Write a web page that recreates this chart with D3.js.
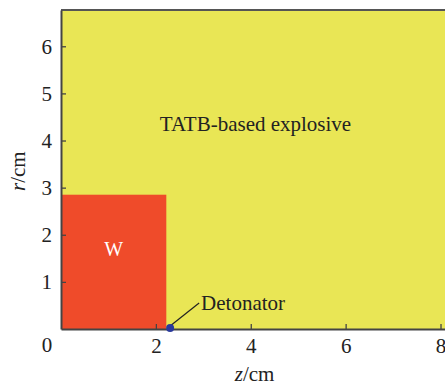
<!DOCTYPE html>
<html>
<head>
<meta charset="utf-8">
<script src="https://cdn.jsdelivr.net/npm/d3@7"></script>
<style>
  body { margin: 0; background: #fff; }
</style>
</head>
<body>
<svg id="chart" width="445" height="390" font-family="Liberation Serif" font-size="21"></svg>
<script>
(function() {
    'use strict';

    // axis ticks
    var zTicks = [2, 4, 6, 8];
    var rTicks = [1, 2, 3, 4, 5, 6];
    // regions (cm)
    var domainZ = [0, 8.2];
    var domainR = [0, 6.77];
    var tungsten = { z0: 0, z1: 2.22, r0: 0, r1: 2.85, label: 'W' };
    var explosiveLabel = { z: 4.1, r: 4.2, text: 'TATB-based explosive' };
    var detonator = { z: 2.3, r: 0, label: 'Detonator' };

    var FONT = 'Liberation Serif';
    var FS = 21;
    var margin = { top: 10, left: 61, bottom: 61 };
    var width = 450 - margin.left;
    var height = 390 - margin.top - margin.bottom;

    var svg = d3.select('#chart');
    var g = svg.append('g').attr('transform', 'translate(' + margin.left + ',' + margin.top + ')');

    var x = d3.scaleLinear().domain(domainZ).range([0, width]);
    var y = d3.scaleLinear().domain(domainR).range([height, 0]);

    function label(sel) {
        return sel.attr('font-family', FONT).attr('font-size', FS).attr('fill', '#222');
    }

    // explosive background
    g.append('rect')
        .attr('x', x(domainZ[0]))
        .attr('y', y(domainR[1]))
        .attr('width', x(domainZ[1]) - x(domainZ[0]))
        .attr('height', y(domainR[0]) - y(domainR[1]))
        .attr('fill', '#e9e655');

    // tungsten block
    g.append('rect')
        .attr('x', x(tungsten.z0))
        .attr('y', y(tungsten.r1))
        .attr('width', x(tungsten.z1) - x(tungsten.z0))
        .attr('height', y(tungsten.r0) - y(tungsten.r1))
        .attr('fill', '#ef4b2a');

    // frame top
    g.append('line')
        .attr('x1', 0).attr('x2', width)
        .attr('y1', 0).attr('y2', 0)
        .attr('stroke', '#555').attr('stroke-width', 2);

    // axes
    var xAxis = g.append('g')
        .attr('transform', 'translate(0,' + height + ')')
        .call(d3.axisBottom(x).tickValues(zTicks).tickFormat(d3.format('d'))
            .tickSizeInner(-5).tickSizeOuter(0).tickPadding(9));
    var yAxis = g.append('g')
        .call(d3.axisLeft(y).tickValues(rTicks).tickFormat(d3.format('d'))
            .tickSizeInner(-5).tickSizeOuter(0).tickPadding(9));

    [xAxis, yAxis].forEach(function(a) {
        a.attr('font-family', FONT).attr('font-size', FS);
        a.select('.domain').attr('stroke', '#444').attr('stroke-width', 2);
        a.selectAll('.tick line').attr('stroke', '#444').attr('stroke-width', 1.3);
        a.selectAll('.tick text').call(label);
    });

    // detonator marker and leader line
    var dx = x(detonator.z), dy = y(detonator.r);
    g.append('line')
        .attr('x1', dx).attr('y1', dy - 3)
        .attr('x2', dx + 29).attr('y2', dy - 26)
        .attr('stroke', '#222').attr('stroke-width', 1.2);
    g.append('circle')
        .attr('cx', dx).attr('cy', dy - 1)
        .attr('r', 4)
        .attr('fill', '#2a3a9c');

    // text labels
    var labels = g.append('g').attr('font-family', FONT).attr('font-size', FS).attr('fill', '#222');

    labels.append('text')
        .attr('transform', 'translate(' + x((tungsten.z0 + tungsten.z1) / 2) + ',' + (y(tungsten.r1 / 2) - 6) + ')')
        .attr('text-anchor', 'middle')
        .call(label)
        .attr('font-size', 20)
        .attr('fill', '#fff')
        .text(tungsten.label);

    labels.append('text')
        .attr('transform', 'translate(' + x(explosiveLabel.z) + ',' + y(explosiveLabel.r) + ')')
        .attr('text-anchor', 'middle')
        .call(label)
        .text(explosiveLabel.text);

    labels.append('text')
        .attr('transform', 'translate(-14,' + (height + 23) + ')')
        .attr('text-anchor', 'middle')
        .call(label)
        .text('0');

    labels.append('text')
        .attr('transform', 'translate(' + (dx + 31) + ',' + (dy - 19) + ')')
        .call(label)
        .text(detonator.label);

    // axis titles
    var zt = labels.append('text')
        .attr('transform', 'translate(' + x(4.08) + ',' + (height + 52) + ')')
        .attr('text-anchor', 'middle')
        .call(label);
    zt.append('tspan').attr('font-style', 'italic').text('z');
    zt.append('tspan').text('/cm');

    var rt = labels.append('text')
        .attr('transform', 'translate(-36,' + y(3.35) + ') rotate(-90)')
        .attr('text-anchor', 'middle')
        .call(label);
    rt.append('tspan').attr('font-style', 'italic').text('r');
    rt.append('tspan').text('/cm');
})();
</script>
</body>
</html>
